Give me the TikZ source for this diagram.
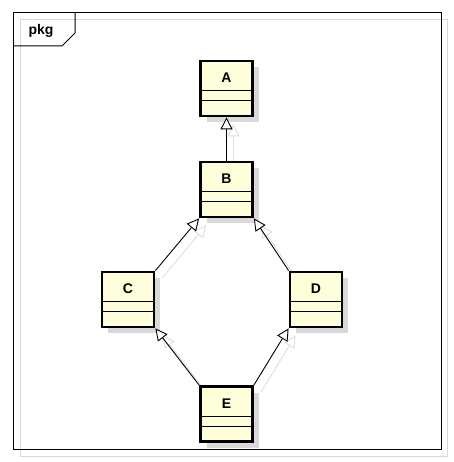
\documentclass[tikz,border=0pt]{standalone}
\usepackage{fontspec}
\setmainfont{Liberation Sans}
\usetikzlibrary{arrows.meta,shadows,backgrounds}
\definecolor{clsyellow}{HTML}{FEFEDA}
\colorlet{shadowgrey}{black!15}
\colorlet{linkgrey}{black!13}

\tikzset{
    cls/.style={draw, line width=2.8pt, fill=clsyellow, inner sep=0pt,
        minimum width=52pt, minimum height=55pt,
        text height=21.5pt, text depth=33.5pt,
        font=\fontsize{14}{16}\selectfont\bfseries,
        drop shadow={shadow xshift=6pt, shadow yshift=-6pt, fill=shadowgrey, opacity=1},
        path picture={
            \draw[line width=1pt] ([yshift=-29.7pt]path picture bounding box.north west) -- ([yshift=-29.7pt]path picture bounding box.north east);
            \draw[line width=1pt] ([yshift=-39.7pt]path picture bounding box.north west) -- ([yshift=-39.7pt]path picture bounding box.north east);
        }},
    gen/.style={line width=0.9pt, -{Triangle[fill=white, length=12pt, width=12pt]}}
}

\begin{document}
\begin{tikzpicture}[x=1pt, y=-1pt]
        \useasboundingbox (0,0) rectangle (453,462);
        % package frame
        \draw[shadowgrey, line width=1pt] (20,20) rectangle (447,456);
        \draw[line width=1pt] (13,13) rectangle (441,449);
        \draw[line width=1pt] (13,46) -- (62,46) -- (75,33) -- (75,13);
        \node[font=\fontsize{14}{16}\selectfont\bfseries] (pkg) at (41,31) {pkg};

        % classes
        \node[cls] (A) at (226.5,88.5) {A};
        \node[cls] (B) at (226.5,189.5) {B};
        \node[cls] (C) at (128,299.5) {C};
        \node[cls] (D) at (316,299.5) {D};
        \node[cls] (E) at (226.5,414) {E};

        % generalizations
        \begin{scope}[on background layer]
        \foreach \a/\b in {B.north/A.south, C.north east/B.south west, D.north west/B.south east, E.north west/C.south east, E.north east/D.south west}{
            \draw[gen, draw=linkgrey, transform canvas={shift={(7pt,-7pt)}}] (\a) -- (\b);
        }
        \end{scope}
        \foreach \a/\b in {B.north/A.south, C.north east/B.south west, D.north west/B.south east, E.north west/C.south east, E.north east/D.south west}{
            \draw[gen] (\a) -- (\b);
        }
    \end{tikzpicture}
\end{document}
